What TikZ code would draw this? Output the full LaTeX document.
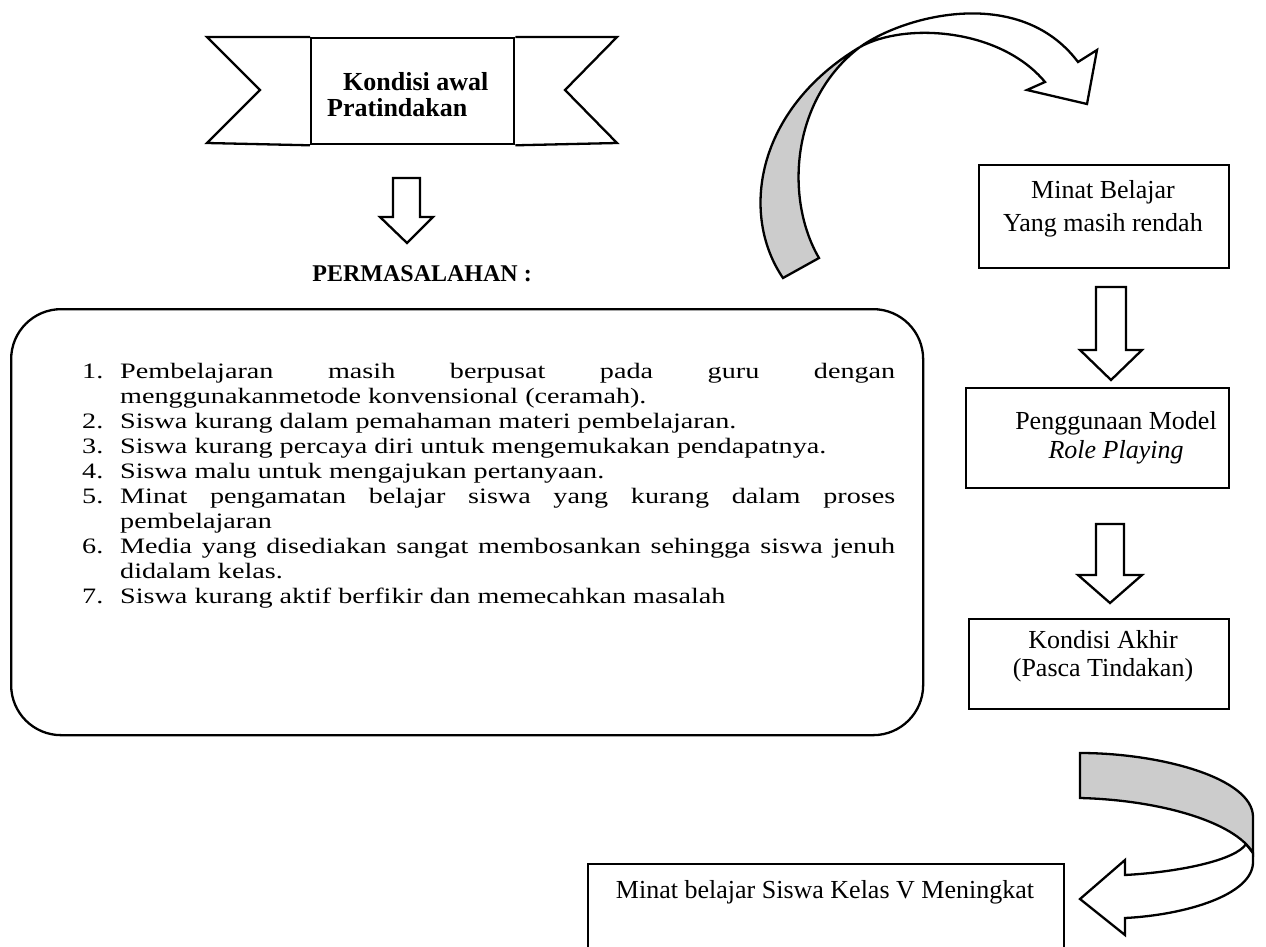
\documentclass[tikz,border=0pt]{standalone}
\usepackage{fontspec}
\setmainfont{Liberation Serif}
\newfontfamily\listfont[FakeStretch=1.28]{Liberation Serif}
\newcommand{\itm}[2]{\noindent\hangindent=38pt\hangafter=1\makebox[38pt][l]{#1}#2\par}
\begin{document}
\begin{tikzpicture}[x=1pt,y=-1pt,
  ol/.style={draw=black,line width=2.3pt,line join=miter},
  bx/.style={draw=black,line width=2.3pt,inner sep=0pt},
  rtxt/.style={font=\fontsize{26}{31}\selectfont,inner sep=0pt,align=center},
  btxt/.style={font=\fontsize{26}{26}\selectfont\bfseries,inner sep=0pt,align=left},
  band/.style={ol,fill=black!20},
  harrow/.style={ol,fill=white}]
\useasboundingbox (0,0) rectangle (1266,947);
\clip (0,0) rectangle (1266,947);

% banner
\node[bx,minimum width=203pt,minimum height=106pt,anchor=north west] (mid) at (310,37) {};
\draw[ol] (mid.north west) -- (207,37) -- (260,90) -- (207,143) -- (mid.south west);
\draw[ol] (mid.north east) -- (617,37) -- (565,90) -- (617,143) -- (mid.south east);
\node[btxt,anchor=west] (kond) at (327,95) {\hspace*{16pt}Kondisi awal\\Pratindakan};

% block arrow 1
\draw[ol] (393,178) -- (420,178) -- (420,217) -- (433,217) -- (407,243) -- (380,217) -- (393,217) -- cycle;

\node[font=\fontsize{24}{26}\selectfont\bfseries,anchor=east,inner sep=0pt] (perm) at (532,274) {PERMASALAHAN :};

% problem box
\node[bx,rounded corners=50pt,minimum width=912pt,minimum height=426pt,anchor=north west] (prob) at (10,308) {};
\node[anchor=north west,inner sep=0pt,text width=813pt,align=justify,font=\listfont\fontsize{22}{25}\selectfont] (list) at (82,363) {\hyphenpenalty=10000\exhyphenpenalty=10000
\itm{1.}{Pembelajaran masih berpusat pada guru dengan\linebreak menggunakanmetode konvensional (ceramah).}
\itm{2.}{Siswa kurang dalam pemahaman materi pembelajaran.}
\itm{3.}{Siswa kurang percaya diri untuk mengemukakan pendapatnya.}
\itm{4.}{Siswa malu untuk mengajukan pertanyaan.}
\itm{5.}{Minat pengamatan belajar siswa yang kurang dalam proses\linebreak pembelajaran}
\itm{6.}{Media yang disediakan sangat membosankan sehingga siswa jenuh\linebreak didalam kelas.}
\itm{7.}{Siswa kurang aktif berfikir dan memecahkan masalah}};

% right column
\node[bx,minimum width=250pt,minimum height=103pt,anchor=north west] (b1) at (978,164) {};
\node[rtxt,font=\fontsize{26}{33}\selectfont] (t1) at (1103,209) {Minat Belajar\\Yang masih rendah};
\draw[ol] (1096,287) -- (1126,287) -- (1126,350) -- (1142,350) -- (1111,380) -- (1080,350) -- (1096,350) -- cycle;
\node[bx,minimum width=263pt,minimum height=100pt,anchor=north west] (b2) at (965,387) {};
\node[rtxt,font=\fontsize{26}{29}\selectfont] (t2) at (1116,437.5) {Penggunaan Model\\\textit{Role Playing}};
\draw[ol] (1096,524) -- (1124,524) -- (1124,575) -- (1142,575) -- (1110,603) -- (1078,575) -- (1096,575) -- cycle;
\node[bx,minimum width=260pt,minimum height=90pt,anchor=north west] (b3) at (968,618) {};
\node[rtxt,font=\fontsize{26}{28}\selectfont] (t3) at (1103,656.5) {Kondisi Akhir\\(Pasca Tindakan)};

% bottom box
\node[bx,minimum width=476pt,minimum height=120pt,anchor=north west] (b4) at (587,863) {};
\node[rtxt] (t4) at (825,892) {Minat belajar Siswa Kelas V Meningkat};

% top curved arrow
\coordinate (tw) at (860,47);
\draw[band] (783,278) .. controls (740,215) and (755,110) .. (tw) .. controls (790,100) and (785,200) .. (819,258) -- cycle;
\draw[harrow] (tw) .. controls (905,15) and (1020,-15) .. (1078,62) -- (1097,50) -- (1087,104) -- (1027,90) -- (1045,82) .. controls (1000,28) and (905,22) .. (tw) -- cycle;

% bottom curved arrow
\draw[harrow] (1253,853) -- (1253,862) .. controls (1253,895) and (1185,915) .. (1125,918) -- (1125,935) -- (1080,899) -- (1125,860) -- (1125,875) .. controls (1180,872) and (1236,860) .. (1246,844) -- cycle;
\draw[band] (1080,753) .. controls (1160,753) and (1253,778) .. (1253,817) -- (1253,853) .. controls (1235,822) and (1160,800) .. (1080,798) -- cycle;
\end{tikzpicture}
\end{document}
